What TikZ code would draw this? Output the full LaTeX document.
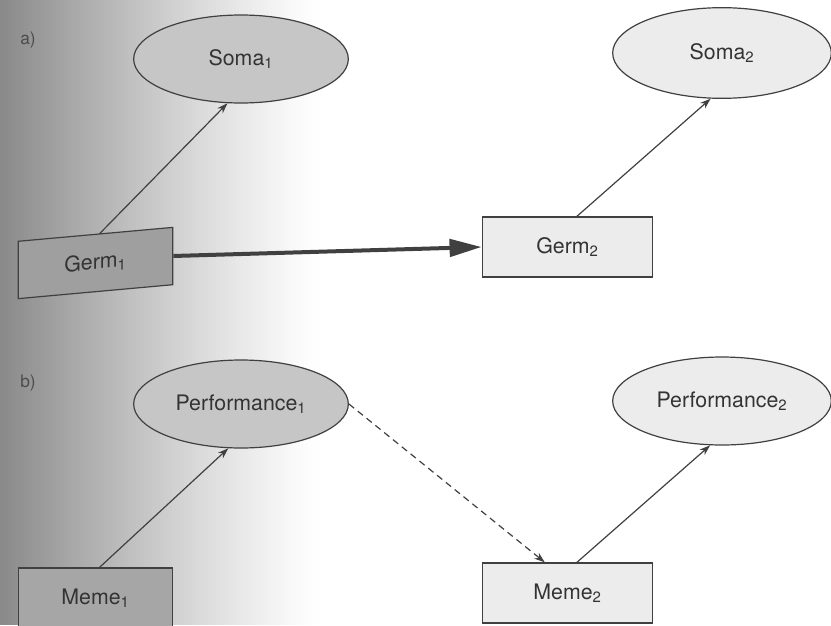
\documentclass[tikz,border=0pt]{standalone}
\usepackage{xcolor}
\usepackage{fontspec}
\setmainfont{TeX Gyre Heros}
\usepackage{tikz}
\usetikzlibrary{shapes.geometric,arrows.meta}

\begin{document}
\begin{tikzpicture}[x=0.75pt,y=0.75pt,yscale=-1,xscale=1,
    oval/.style={ellipse,draw=black!75,line width=0.9pt,minimum width=161pt,minimum height=66pt,font=\fontsize{16}{19}\selectfont,text=black!80},
    box/.style={rectangle,draw=black!75,line width=0.9pt,minimum width=116pt,minimum height=43pt,font=\fontsize{16}{19}\selectfont,text=black!80},
    wide/.style={minimum width=128pt,minimum height=45pt},
    tag/.style={font=\fontsize{13}{15}\selectfont,text=black!70},
    link/.style={draw=black!75,line width=0.9pt,-{Stealth[length=8pt,width=5.5pt]}},
    heavylink/.style={draw=black!75,line width=3pt,-{Triangle[length=24pt,width=13pt]}}]

    \useasboundingbox (0,0) rectangle (831,625);
    \foreach \i in {0,...,79} {
        \pgfmathsetmacro{\pct}{46*(1-\i/80)^1.2}
        \fill [black!\pct] (\i*4,0) rectangle (\i*4+4.5,625);
    }

        \node [tag] (labA) at (28,40) {a)};
        \node [oval,fill=gray!45] (somaA) at (241,59) {Soma\textsubscript{1}};
        \node [oval,fill=gray!15,minimum width=164pt,minimum height=68pt] (somaB) at (722,53) {Soma\textsubscript{2}};
        \node [box,fill=gray!75,yslant=0.09] (germA) at (95.5,263) {Germ\textsubscript{1}};
        \node [box,wide,fill=gray!15] (germB) at (567.5,247) {Germ\textsubscript{2}};

        \node [tag] (labB) at (28,383) {b)};
        \node [oval,fill=gray!45] (perfA) at (241,404) {Performance\textsubscript{1}};
        \node [oval,fill=gray!15,minimum width=164pt] (perfB) at (722,401) {Performance\textsubscript{2}};
        \node [box,fill=gray!70,minimum height=45pt] (memeA) at (95.5,598) {Meme\textsubscript{1}};
        \node [box,wide,fill=gray!15] (memeB) at (567.5,593) {Meme\textsubscript{2}};

        \draw [link] ([xshift=3pt]germA.north) -- (somaA.253);
        \draw [link] ([xshift=7pt]germB.north) -- (somaB.256);
        \draw [heavylink] (germA.east) -- (germB.west);

        \draw [link] ([xshift=3pt]memeA.north) -- (perfA.254);
        \draw [link] ([xshift=7pt]memeB.north) -- (perfB.255);
        \draw [link,dash pattern=on 5pt off 3.5pt] (perfA.east) -- ([xshift=-17pt]memeB.north);
\end{tikzpicture}
\end{document}
